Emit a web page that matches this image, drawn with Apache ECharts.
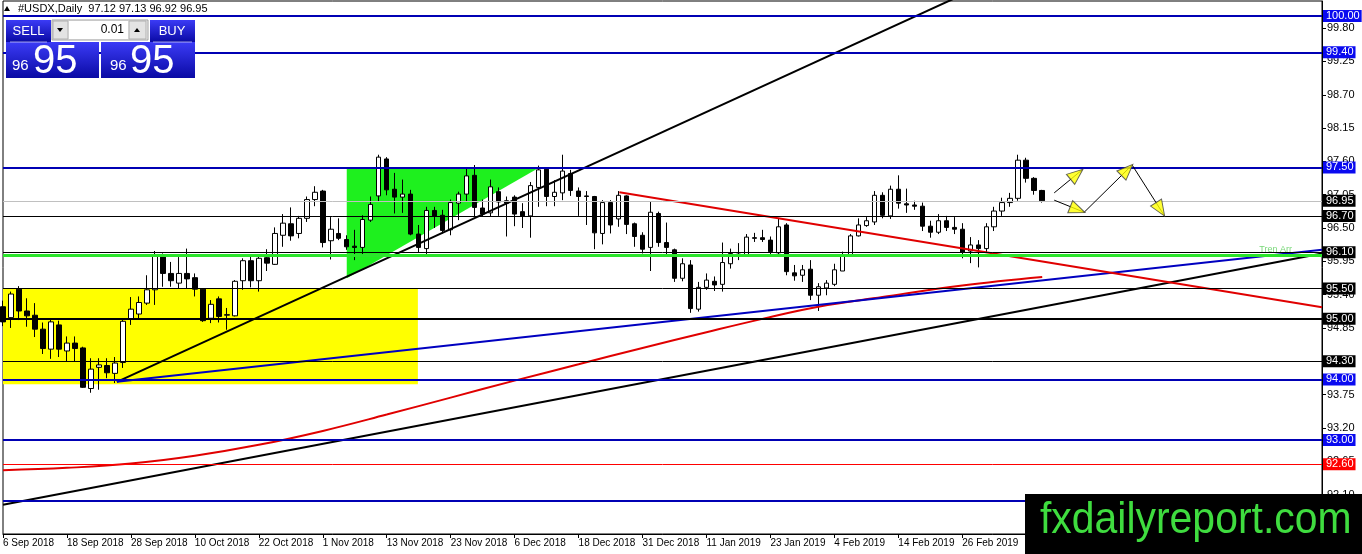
<!DOCTYPE html>
<html><head><meta charset="utf-8">
<script src="https://cdn.jsdelivr.net/npm/echarts@6/dist/echarts.min.js"></script>
<style>html,body{margin:0;padding:0;background:#fff}#c{width:1362px;height:554px}</style>
</head><body><div id="c"></div>
<script>
const dates = ["6 Sep 2018","7 Sep 2018","10 Sep 2018","11 Sep 2018","12 Sep 2018","13 Sep 2018","14 Sep 2018","17 Sep 2018","18 Sep 2018","19 Sep 2018","20 Sep 2018","21 Sep 2018","24 Sep 2018","25 Sep 2018","26 Sep 2018","27 Sep 2018","28 Sep 2018",
"1 Oct 2018","2 Oct 2018","3 Oct 2018","4 Oct 2018","5 Oct 2018","8 Oct 2018","9 Oct 2018","10 Oct 2018","11 Oct 2018","12 Oct 2018","15 Oct 2018","16 Oct 2018","17 Oct 2018","18 Oct 2018","19 Oct 2018","22 Oct 2018","23 Oct 2018","24 Oct 2018","25 Oct 2018","26 Oct 2018","29 Oct 2018","30 Oct 2018","31 Oct 2018",
"1 Nov 2018","2 Nov 2018","5 Nov 2018","6 Nov 2018","7 Nov 2018","8 Nov 2018","9 Nov 2018","12 Nov 2018","13 Nov 2018","14 Nov 2018","15 Nov 2018","16 Nov 2018","19 Nov 2018","20 Nov 2018","21 Nov 2018","22 Nov 2018","23 Nov 2018","26 Nov 2018","27 Nov 2018","28 Nov 2018","29 Nov 2018","30 Nov 2018",
"3 Dec 2018","4 Dec 2018","6 Dec 2018","7 Dec 2018","10 Dec 2018","11 Dec 2018","12 Dec 2018","13 Dec 2018","14 Dec 2018","17 Dec 2018","18 Dec 2018","19 Dec 2018","20 Dec 2018","21 Dec 2018","24 Dec 2018","26 Dec 2018","27 Dec 2018","28 Dec 2018","31 Dec 2018",
"2 Jan 2019","3 Jan 2019","4 Jan 2019","7 Jan 2019","8 Jan 2019","9 Jan 2019","10 Jan 2019","11 Jan 2019","14 Jan 2019","15 Jan 2019","16 Jan 2019","17 Jan 2019","18 Jan 2019","21 Jan 2019","22 Jan 2019","23 Jan 2019","24 Jan 2019","25 Jan 2019","28 Jan 2019","29 Jan 2019","30 Jan 2019","31 Jan 2019",
"1 Feb 2019","4 Feb 2019","5 Feb 2019","6 Feb 2019","7 Feb 2019","8 Feb 2019","11 Feb 2019","12 Feb 2019","13 Feb 2019","14 Feb 2019","15 Feb 2019","18 Feb 2019","19 Feb 2019","20 Feb 2019","21 Feb 2019","22 Feb 2019","25 Feb 2019","26 Feb 2019","27 Feb 2019","28 Feb 2019",
"1 Mar 2019","4 Mar 2019","5 Mar 2019","6 Mar 2019","7 Mar 2019","8 Mar 2019","11 Mar 2019","12 Mar 2019"];

const openP = [95.20,95.02,95.49,95.13,95.06,94.83,94.50,94.90,94.47,94.60,
94.52,93.85,94.20,94.23,94.10,94.28,94.99,95.08,95.26,95.48,
96.02,95.75,95.59,95.75,95.68,95.49,95.01,95.33,95.06,95.05,
95.63,95.96,95.63,96.01,95.90,96.38,96.57,96.41,96.66,96.97,
97.11,96.29,96.41,96.31,96.20,96.18,96.63,97.03,97.64,97.14,
97.01,97.06,96.40,96.16,96.79,96.71,96.47,96.91,97.06,97.37,
96.83,96.75,97.10,96.95,97.01,96.77,96.70,97.17,97.47,97.02,
97.08,97.40,97.11,97.03,97.02,96.41,96.92,96.65,97.03,96.57,
96.38,96.18,96.74,96.26,96.14,95.67,95.89,95.16,95.52,95.62,
95.57,95.91,96.07,96.04,96.34,96.34,96.30,96.09,96.55,95.76,
95.72,95.82,95.39,95.51,95.57,95.79,96.05,96.37,96.54,96.60,
97.04,96.70,97.14,96.90,96.88,96.86,96.53,96.43,96.62,96.51,
96.48,96.12,96.22,96.16,96.52,96.78,96.92,96.99,97.62,97.32,
97.12];
const highP = [95.30,95.45,95.54,95.34,95.26,94.94,94.98,94.97,94.71,94.71,
94.54,94.35,94.35,94.35,94.37,94.98,95.36,95.37,95.72,96.12,
96.08,95.94,96.02,96.16,95.75,95.50,95.31,95.37,95.18,95.64,
96.00,96.07,96.07,96.15,96.51,96.73,96.84,96.70,97.02,97.19,
97.13,96.68,96.66,96.38,96.47,96.71,97.02,97.71,97.67,97.41,
97.30,97.13,96.55,96.85,96.85,96.80,96.97,97.10,97.49,97.54,
96.97,97.30,97.17,97.02,97.04,96.91,97.26,97.53,97.50,97.29,
97.71,97.46,97.17,97.11,97.03,96.96,96.96,97.11,97.04,96.59,
96.43,96.93,96.77,96.59,96.16,96.00,95.97,95.61,95.75,95.70,
96.26,96.16,96.25,96.40,96.42,96.47,96.36,96.66,96.58,95.89,
95.89,95.97,95.59,95.64,95.91,96.11,96.40,96.66,96.68,97.11,
97.09,97.20,97.37,97.15,96.95,96.92,96.62,96.73,96.70,96.68,
96.58,96.35,96.30,96.58,96.85,97.00,97.08,97.71,97.66,97.34,
97.13];
const lowP = [94.88,94.85,94.98,94.87,94.70,94.42,94.34,94.37,94.29,94.29,
93.86,93.78,93.83,94.02,93.94,94.19,94.90,94.99,95.23,95.23,
95.53,95.53,95.50,95.50,95.37,94.95,94.93,94.94,94.82,95.04,
95.48,95.52,95.45,95.79,95.89,96.19,96.29,96.33,96.60,96.86,
96.18,95.98,96.30,96.14,95.97,96.05,96.60,96.93,97.04,96.74,
96.75,96.38,96.09,96.05,96.50,96.41,96.38,96.63,96.93,96.69,
96.69,96.69,96.70,96.36,96.53,96.50,96.34,96.85,96.86,96.86,
96.96,97.03,96.70,96.55,96.15,96.23,96.41,96.52,96.40,96.19,
96.08,95.79,96.19,96.05,95.61,95.62,95.10,95.12,95.48,95.46,
95.45,95.83,95.97,96.03,96.27,96.27,96.05,96.05,95.72,95.63,
95.61,95.31,95.13,95.39,95.54,95.79,96.03,96.36,96.52,96.55,
96.66,96.65,96.82,96.75,96.80,96.45,96.34,96.40,96.45,96.40,
96.00,95.92,95.85,96.10,96.45,96.70,96.85,96.95,97.25,97.05,
96.92];
const closeP = [94.95,95.41,95.13,95.05,94.83,94.51,94.95,94.50,94.60,94.51,
93.87,94.17,94.24,94.11,94.27,94.96,95.16,95.27,95.48,96.05,
95.75,95.63,95.75,95.66,95.49,94.97,95.24,95.04,95.07,95.62,
95.96,95.63,96.00,95.92,96.41,96.58,96.37,96.66,96.97,97.09,
96.26,96.48,96.33,96.19,96.18,96.64,96.89,97.67,97.13,97.01,
97.06,96.40,96.18,96.79,96.70,96.46,96.92,97.06,97.36,96.84,
96.73,97.18,96.93,96.91,96.73,96.70,97.20,97.46,97.02,97.09,
97.44,97.12,97.02,97.02,96.42,96.92,96.55,97.04,96.56,96.36,
96.15,96.76,96.26,96.18,95.67,95.91,95.17,95.52,95.64,95.56,
95.93,96.08,96.03,96.35,96.33,96.31,96.11,96.52,95.78,95.71,
95.81,95.39,95.53,95.59,95.81,96.04,96.37,96.55,96.62,97.04,
96.71,97.14,96.91,96.88,96.86,96.53,96.43,96.62,96.51,96.48,
96.10,96.22,96.16,96.52,96.78,96.92,96.99,97.62,97.32,97.12,
96.95];

// moving average: [bar index, price]
const maPoints = [[0,92.50],[8,92.54],[16,92.61],[24,92.74],[32,92.92],[40,93.15],[48,93.42],[56,93.70],[64,93.98],[72,94.25],[80,94.52],[88,94.78],[95,95.00],[102,95.20],[110,95.36],[120,95.55],[130,95.69]];

// price axis tick labels
const yTickValues = [99.80,99.25,98.70,98.15,97.60,97.05,96.50,95.95,95.40,94.85,94.30,93.75,93.20,92.65,92.10];

// horizontal levels
const levelPrices = [100.00,99.40,97.50,96.95,96.70,96.10,95.50,95.00,94.30,94.00,93.00,92.60,92.00];
const levelKinds  = ['blue','blue','blue','bid','black','black','black','blackBold','black','blue','blue','red','blueNoTag'];
const greenLevel = 96.05;

// drawn trendlines: [bar index, price] end points
const trendBlackUp   = [[14.25,93.96],[120,100.35]];
const trendBlue      = [[14.25,93.96],[165,96.14]];
const trendBlackLong = [[0,91.93],[165,96.08]];
const trendRed       = [[77.1,97.09],[165,95.19]];

// zones
const yellowZone = [[0,95.50],[51.9,95.50],[51.9,93.92],[0,93.92]];
const greenZone  = [[43,97.50],[67.1,97.50],[43,95.67]];

// projection arrows
const arrowPaths = [
  [[131.5,97.08],[135,97.46]],
  [[131.5,96.96],[135.25,96.76]],
  [[135.25,96.76],[141.25,97.54],[145.25,96.71]]
];
const arrowHeadSegs = [
  [[131.5,97.08],[135,97.46]],
  [[131.5,96.96],[135.25,96.76]],
  [[135.25,96.76],[141.25,97.54]],
  [[141.25,97.54],[145.25,96.71]]
];

const N = 166;
const categories = dates.concat(Array(N - dates.length).fill(''));
const showIdx = (idx) => idx % 8 === 0 && idx <= 120;

const levelStyle = {
  blue:{color:'#0000b4',width:2,tag:'#0a0af0'},
  bid:{color:'#c0c0c0',width:1,tag:'#000000'},
  black:{color:'#000000',width:1,tag:'#000000'},
  blackBold:{color:'#000000',width:2,tag:'#000000'},
  red:{color:'#ff0000',width:1,tag:'#ff0000'},
  blueNoTag:{color:'#0000b4',width:2,tag:null}
};
const FONT = 'Liberation Sans, Arial, sans-serif';

const markData = levelPrices.map((p,i)=>{
  const s = levelStyle[levelKinds[i]];
  return {
    yAxis:p,
    lineStyle:{color:s.color,width:s.width,type:'solid'},
    label: s.tag ? {show:true,position:'end',distance:1,formatter:p.toFixed(2),color:'#fff',backgroundColor:s.tag,
      padding:[1,2,0,3],fontSize:11,lineHeight:11,fontFamily:FONT} : {show:false}
  };
});
markData.push({yAxis:greenLevel,lineStyle:{color:'#2be52b',width:3,type:'solid'},
  label:{show:true,position:'insideEndTop',distance:[30,1],formatter:'Tren Arr',color:'#7ad87a',fontSize:9,fontFamily:FONT}});

const polyRender = (pts, color) => (params, api) => ({
  type:'polygon', shape:{points: pts.map(p=>api.coord(p))}, style:{fill:color}
});

const blueGrad = () => new echarts.graphic.LinearGradient(0,0,0,1,[{offset:0,color:'#3b3bf6'},{offset:1,color:'#0a0aa4'}]);

const option = {
  animation:false,
  backgroundColor:'#ffffff',
  grid:{left:3,right:40,top:1,bottom:20,show:true,borderColor:'#000',borderWidth:1,backgroundColor:'#fff'},
  xAxis:[
    {type:'category',data:categories,boundaryGap:false,
     axisLine:{show:true,onZero:false,lineStyle:{color:'#000'}},
     axisTick:{show:true,interval:showIdx,length:4,lineStyle:{color:'#000'}},
     axisLabel:{interval:showIdx,align:'left',margin:4,fontSize:10,fontFamily:FONT,color:'#000'},
     splitLine:{show:false}},
    {type:'value',min:0,max:N-1,show:false,splitLine:{show:false},axisLine:{onZero:false}}
  ],
  yAxis:{type:'value',position:'right',min:91.448,max:100.248,scale:true,
    axisLine:{show:true,onZero:false,lineStyle:{color:'#000'}},
    axisTick:{show:true,length:4,customValues:yTickValues,lineStyle:{color:'#000'}},
    axisLabel:{customValues:yTickValues,formatter:v=>v.toFixed(2),margin:5,fontSize:11,fontFamily:FONT,color:'#000'},
    splitLine:{show:false}},
  series:[
    {type:'custom',name:'yellowZone',xAxisIndex:1,z:1,silent:true,clip:true,data:[[0,95]],renderItem:polyRender(yellowZone,'#ffff00')},
    {type:'custom',name:'greenZone',xAxisIndex:1,z:1,silent:true,clip:true,data:[[43,96]],renderItem:polyRender(greenZone,'#1ef01e')},
    {type:'candlestick',name:'USDX',xAxisIndex:0,z:2,barWidth:5,clip:true,silent:true,
     data:dates.map((d,i)=>[openP[i],closeP[i],lowP[i],highP[i]]),
     itemStyle:{color:'#ffffff',color0:'#000000',borderColor:'#000000',borderColor0:'#000000',borderWidth:1},
     markLine:{symbol:['none','none'],silent:true,animation:false,data:markData}},
    {type:'line',name:'ma',xAxisIndex:1,z:4,data:maPoints,smooth:0.4,symbol:'none',lineStyle:{color:'#e00000',width:2},silent:true},
    {type:'line',name:'upBlack',xAxisIndex:1,z:4,data:trendBlackUp,symbol:'none',lineStyle:{color:'#000',width:2},silent:true,clip:true},
    {type:'line',name:'blueTrend',xAxisIndex:1,z:4,data:trendBlue,symbol:'none',lineStyle:{color:'#0000c0',width:2},silent:true,clip:true},
    {type:'line',name:'longBlack',xAxisIndex:1,z:4,data:trendBlackLong,symbol:'none',lineStyle:{color:'#000',width:2},silent:true,clip:true},
    {type:'line',name:'redTrend',xAxisIndex:1,z:4,data:trendRed,symbol:'none',lineStyle:{color:'#e00000',width:2},silent:true,clip:true},
    ...arrowPaths.map((p,k)=>({type:'line',name:'arrow'+k,xAxisIndex:1,z:6,data:p,symbol:'none',lineStyle:{color:'#000',width:1},silent:true})),
    {type:'scatter',id:'heads',xAxisIndex:1,z:7,data:[],symbol:'triangle',symbolSize:[13,16],silent:true,
     itemStyle:{color:'#ffff00',borderColor:'#404040',borderWidth:1}}
  ],
  graphic:[
    {type:'polygon',z:100,shape:{points:[[4,11],[10,11],[7,6]]},style:{fill:'#000'}},
    {type:'text',z:100,x:18,y:9,style:{text:'#USDX,Daily  97.12 97.13 96.92 96.95',fontSize:11,fontFamily:FONT,fill:'#000',verticalAlign:'middle'}},
    {type:'rect',z:100,shape:{x:6,y:20,width:45,height:22},style:{fill:blueGrad()}},
    {type:'text',z:101,x:28.5,y:31,style:{text:'SELL',fontSize:13,fontFamily:FONT,fill:'#fff',align:'center',verticalAlign:'middle'}},
    {type:'rect',z:100,shape:{x:52,y:20,width:96,height:20},style:{fill:'#f0f0f0',stroke:'#a0a0a0',lineWidth:1}},
    {type:'rect',z:101,shape:{x:53,y:21,width:15,height:18},style:{fill:'#e3e3e3',stroke:'#b0b0b0',lineWidth:1}},
    {type:'polygon',z:102,shape:{points:[[57,28],[63,28],[60,32]]},style:{fill:'#000'}},
    {type:'rect',z:101,shape:{x:69,y:21,width:59,height:18},style:{fill:'#ffffff'}},
    {type:'text',z:102,x:124,y:30,style:{text:'0.01',fontSize:12,fontFamily:FONT,fill:'#000',align:'right',verticalAlign:'middle'}},
    {type:'rect',z:101,shape:{x:129,y:21,width:17,height:18},style:{fill:'#e3e3e3',stroke:'#b0b0b0',lineWidth:1}},
    {type:'polygon',z:102,shape:{points:[[134,32],[140,32],[137,28]]},style:{fill:'#000'}},
    {type:'rect',z:100,shape:{x:150,y:20,width:45,height:22},style:{fill:blueGrad()}},
    {type:'text',z:101,x:172,y:31,style:{text:'BUY',fontSize:13,fontFamily:FONT,fill:'#fff',align:'center',verticalAlign:'middle'}},
    {type:'rect',z:100,shape:{x:6,y:42,width:93,height:36},style:{fill:blueGrad()}},
    {type:'rect',z:100,shape:{x:101,y:42,width:94,height:36},style:{fill:blueGrad()}},
    {type:'line',z:101,shape:{x1:10,y1:42,x2:47,y2:42},style:{stroke:'rgba(255,255,255,0.6)',lineWidth:1}},
    {type:'line',z:101,shape:{x1:153,y1:42,x2:192,y2:42},style:{stroke:'rgba(255,255,255,0.6)',lineWidth:1}},
    {type:'text',z:101,x:12,y:66,style:{text:'96',fontSize:15,fontFamily:FONT,fill:'#fff',verticalAlign:'middle'}},
    {type:'text',z:101,x:33,y:62,style:{text:'95',fontSize:40,fontFamily:FONT,fill:'#fff',verticalAlign:'middle'}},
    {type:'text',z:101,x:110,y:66,style:{text:'96',fontSize:15,fontFamily:FONT,fill:'#fff',verticalAlign:'middle'}},
    {type:'text',z:101,x:130,y:62,style:{text:'95',fontSize:40,fontFamily:FONT,fill:'#fff',verticalAlign:'middle'}},
    {type:'rect',z:110,shape:{x:1025,y:494,width:337,height:60},style:{fill:'#000'}},
    {type:'text',z:111,x:1040,y:521,scaleX:0.93,style:{text:'fxdailyreport.com',fontSize:44,fontFamily:FONT,fill:'#3fdc3f',verticalAlign:'middle'}}
  ]
};

const chart = echarts.init(document.getElementById('c'));
chart.setOption(option);
const finder = {xAxisIndex:1,yAxisIndex:0};
const heads = arrowHeadSegs.map(([from,tip])=>{
  const a = chart.convertToPixel(finder,from);
  const b = chart.convertToPixel(finder,tip);
  const dx=b[0]-a[0], dy=b[1]-a[1], len=Math.hypot(dx,dy)||1;
  const ang = Math.atan2(-dy,dx)*180/Math.PI;
  const c = [b[0]-dx/len*7, b[1]-dy/len*7];
  return {value: chart.convertFromPixel(finder,c), symbolRotate: ang-90};
});
chart.setOption({series:[{id:'heads',data:heads}]});
</script>
</body></html>
